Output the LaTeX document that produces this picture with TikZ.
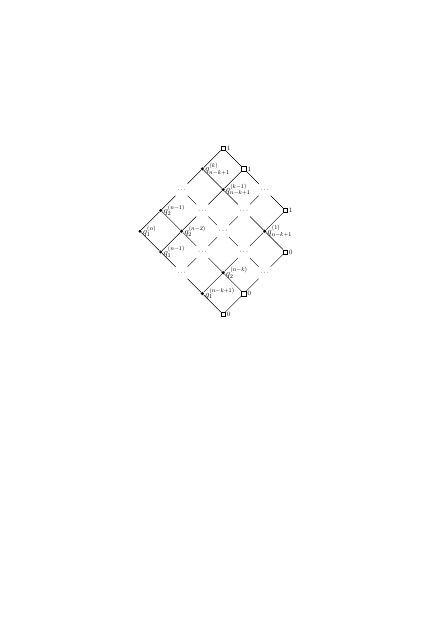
\documentclass[tikz,border=0pt]{standalone}
\begin{document}
\begin{tikzpicture}[x=1cm,y=-1cm,
  vtx/.style={circle,fill=black,inner sep=0pt,minimum size=4.6pt},
  bnd/.style={rectangle,draw=black,fill=white,inner sep=0pt,minimum size=6pt,line width=0.6pt},
  gapnode/.style={circle,inner sep=0pt,minimum size=23pt},
  lab/.style={inner sep=1.5pt,font=\large},
  blab/.style={inner sep=1.5pt,font=\small},
  edge/.style={draw=black,line width=0.6pt}]
\useasboundingbox (-6.74,-11.13) rectangle (14.26,18.57);
% boundary squares
\node[bnd,label={[blab]right:$1$}] (n4m4) at (4,-4) {};
\node[bnd,label={[blab]right:$1$}] (n5m3) at (5,-3) {};
\node[bnd,label={[blab]right:$1$}] (n7m1) at (7,-1) {};
\node[bnd,label={[blab]right:$0$}] (n7p1) at (7,1) {};
\node[bnd,label={[blab]right:$0$}] (n5p3) at (5,3) {};
\node[bnd,label={[blab]right:$0$}] (n4p4) at (4,4) {};
% vertices
\node[vtx,label={[lab]right:$q_{n-k+1}^{(k)}$}] (n3m3) at (3,-3) {};
\node[vtx,label={[lab]right:$q_{n-k+1}^{(k-1)}$}] (n4m2) at (4,-2) {};
\node[vtx,label={[lab]right:$q_2^{(n-1)}$}] (n1m1) at (1,-1) {};
\node[vtx,label={[lab]right:$q_1^{(n)}$}] (n0p0) at (0,0) {};
\node[vtx,label={[lab]right:$q_2^{(n-2)}$}] (n2p0) at (2,0) {};
\node[vtx,label={[lab]right:$q_{n-k+1}^{(1)}$}] (n6p0) at (6,0) {};
\node[vtx,label={[lab]right:$q_1^{(n-1)}$}] (n1p1) at (1,1) {};
\node[vtx,label={[lab]right:$q_2^{(n-k)}$}] (n4p2) at (4,2) {};
\node[vtx,label={[lab]right:$q_1^{(n-k+1)}$}] (n3p3) at (3,3) {};
% dots
\node[gapnode] (n2m2) at (2,-2) {$\cdots$};
\node[gapnode] (n6m2) at (6,-2) {$\cdots$};
\node[gapnode] (n3m1) at (3,-1) {$\cdots$};
\node[gapnode] (n5m1) at (5,-1) {$\cdots$};
\node[gapnode] (n4p0) at (4,0) {$\cdots$};
\node[gapnode] (n3p1) at (3,1) {$\cdots$};
\node[gapnode] (n5p1) at (5,1) {$\cdots$};
\node[gapnode] (n2p2) at (2,2) {$\cdots$};
\node[gapnode] (n6p2) at (6,2) {$\cdots$};
% edges
\foreach \a/\b in {n4m4/n5m3, n3m3/n4m4, n3m3/n4m2, n5m3/n6m2,
  n2m2/n3m3, n2m2/n3m1, n4m2/n5m3, n4m2/n5m1, n6m2/n7m1,
  n1m1/n2m2, n1m1/n2p0, n3m1/n4m2, n3m1/n4p0, n5m1/n6m2, n5m1/n6p0,
  n0p0/n1m1, n0p0/n1p1, n2p0/n3m1, n2p0/n3p1, n4p0/n5m1, n4p0/n5p1,
  n6p0/n7m1, n6p0/n7p1, n1p1/n2p0, n1p1/n2p2, n3p1/n4p0, n3p1/n4p2,
  n5p1/n6p0, n5p1/n6p2, n2p2/n3p1, n2p2/n3p3, n4p2/n5p1, n4p2/n5p3,
  n6p2/n7p1, n3p3/n4p2, n3p3/n4p4, n5p3/n6p2, n4p4/n5p3}
  \draw[edge] (\a) -- (\b);
\end{tikzpicture}
\end{document}
